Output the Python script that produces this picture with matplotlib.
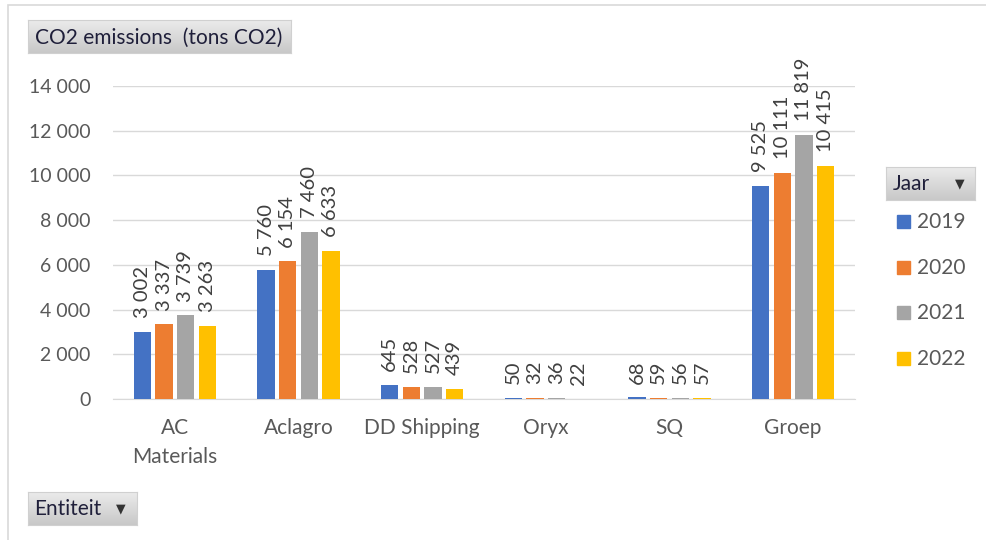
import numpy as np
import matplotlib
matplotlib.use('Agg')
import matplotlib.pyplot as plt
from matplotlib.patches import Rectangle
from matplotlib.colors import LinearSegmentedColormap

plt.rcParams['font.family'] = ['Lato', 'DejaVu Sans']

# Data
entities = ['AC\nMaterials', 'Aclagro', 'DD Shipping', 'Oryx', 'SQ', 'Groep']
years = ['2019', '2020', '2021', '2022']
v2019 = [3002, 5760, 645, 50, 68, 9525]
v2020 = [3337, 6154, 528, 32, 59, 10111]
v2021 = [3739, 7460, 527, 36, 56, 11819]
v2022 = [3263, 6633, 439, 22, 57, 10415]
series = [v2019, v2020, v2021, v2022]
colors = ['#4472C4', '#ED7D31', '#A5A5A5', '#FFC000']
yticks = [0, 2000, 4000, 6000, 8000, 10000, 12000, 14000]

W, H = 986, 540
fig = plt.figure(figsize=(W / 100, H / 100), dpi=100)


def fmt(v):
    return '{:,}'.format(v).replace(',', ' ')


def px_box(x0, y0, x1, y1):
    return [x0 / W, 1 - y1 / H, (x1 - x0) / W, (y1 - y0) / H]


# Outer chart border
fig.patches.append(Rectangle((8 / W, -0.1), 1.2, 1 - 5 / H + 0.1,
                             transform=fig.transFigure, fill=False,
                             edgecolor='#D9D9D9', lw=1.2))

# Main axes
ax = fig.add_axes(px_box(113, 86, 855, 399))
x = np.arange(len(entities))
bw = 0.14
step = 0.175
for i, (vals, c) in enumerate(zip(series, colors)):
    xs = x + (i - 1.5) * step
    ax.bar(xs, vals, width=bw, color=c, zorder=3)
    for xi, v in zip(xs, vals):
        ax.annotate(fmt(v), (xi, v), xytext=(0, 10), textcoords='offset points',
                    rotation=90, ha='center', va='bottom', fontsize=14.5,
                    color='#404040', annotation_clip=False)

ax.set_xlim(-0.5, len(entities) - 0.5)
ax.set_ylim(0, 14000)
ax.set_yticks(yticks)
ax.set_yticklabels([fmt(t) for t in yticks])
ax.set_xticks(x)
ax.set_xticklabels(entities, linespacing=1.55)
ax.tick_params(axis='both', length=0, colors='#595959')
ax.tick_params(axis='y', pad=16, labelsize=14)
ax.tick_params(axis='x', pad=14, labelsize=15)
ax.grid(axis='y', color='#D9D9D9', lw=1, zorder=0)
for s in ['top', 'right', 'left']:
    ax.spines[s].set_visible(False)
ax.spines['bottom'].set_color('#D9D9D9')

cmap = LinearSegmentedColormap.from_list('btn', ['#EBEBEB', '#C8C8C8'])


# Pivot-style buttons
def button(box, label, x0=0.06, fs=15):
    bax = fig.add_axes(px_box(*box))
    grad = np.linspace(0, 1, 50).reshape(-1, 1)
    bax.imshow(grad, aspect='auto', cmap=cmap, extent=(0, 1, 0, 1), origin='upper')
    bax.set_xticks([])
    bax.set_yticks([])
    for sp in bax.spines.values():
        sp.set_color('#D0D0D0')
    bax.text(x0, 0.47, label, ha='left', va='center',
             fontsize=fs, color='#1F1F3A', transform=bax.transAxes)
    return bax


button((28, 20, 291, 53), 'CO2 emissions  (tons CO2)', x0=0.025)
jb = button((886, 167, 975, 200), 'Jaar', x0=0.08)
jb.text(0.83, 0.5, '▼', ha='center', va='center', fontsize=9, color='#333333',
        transform=jb.transAxes, family='DejaVu Sans')
eb = button((28, 492, 137, 525), 'Entiteit', x0=0.06)
eb.text(0.85, 0.5, '▼', ha='center', va='center', fontsize=9, color='#333333',
        transform=eb.transAxes, family='DejaVu Sans')

# Legend
leg_y = [222, 268, 313, 359]
for yr, c, yp in zip(years, colors, leg_y):
    fig.patches.append(Rectangle((897 / W, 1 - (yp + 6) / H), 13 / W, 13 / H,
                                 transform=fig.transFigure, color=c))
    fig.text(917 / W, 1 - yp / H, yr, ha='left', va='center', fontsize=15,
             color='#595959')

fig.savefig('out.png', dpi=100)
